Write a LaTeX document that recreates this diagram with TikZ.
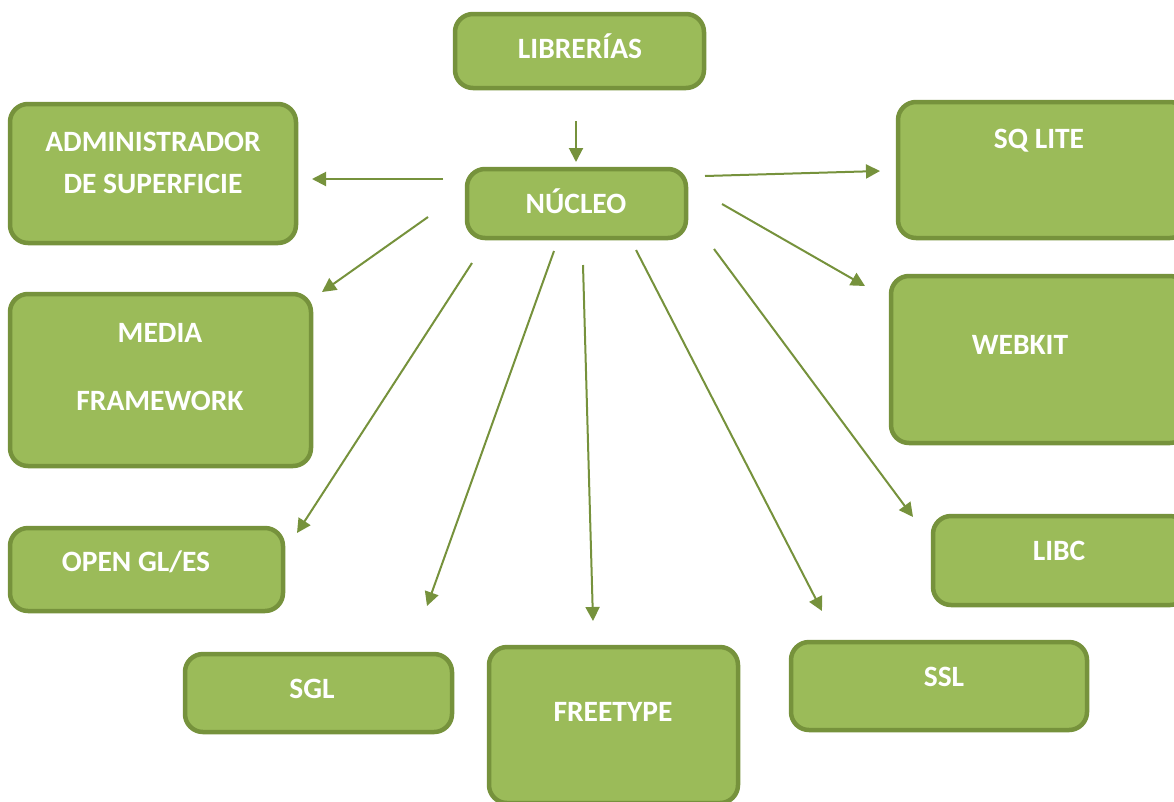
\documentclass[tikz,border=0pt]{standalone}
\usepackage{fontspec}
\setmainfont{Carlito}
\usetikzlibrary{arrows.meta}
\definecolor{boxfill}{HTML}{9BBB59}
\definecolor{boxline}{HTML}{76923C}
\begin{document}
\begin{tikzpicture}[x=1pt,y=-1pt,
  box/.style={draw=boxline,fill=boxfill,line width=4.5pt,rounded corners=18pt,inner sep=0pt,outer sep=0pt},
  txt/.style={text=white,font=\fontsize{29.5}{35}\selectfont\bfseries,anchor=base,inner sep=0pt},
  conn/.style={draw=boxline,line width=2pt,-{Triangle[length=14pt,width=14pt]}}]
\useasboundingbox (0,0) rectangle (1174,801);
\clip (0,0) rectangle (1174,801);
% boxes
\node[box,minimum width=249pt,minimum height=74pt] (lib) at (579.5,51) {};
\node[box,minimum width=219pt,minimum height=69pt] (nuc) at (576.5,203.5) {};
\node[box,minimum width=286pt,minimum height=139pt] (adm) at (153,173.5) {};
\node[box,minimum width=301pt,minimum height=172pt] (med) at (160.5,380) {};
\node[box,minimum width=273pt,minimum height=83pt] (ogl) at (146.5,569.5) {};
\node[box,minimum width=267pt,minimum height=78pt] (sgl) at (318.5,693) {};
\node[box,minimum width=249pt,minimum height=156pt] (ft) at (613.5,725) {};
\node[box,minimum width=296pt,minimum height=88pt] (ssl) at (939,686) {};
\node[box,minimum width=255pt,minimum height=89pt] (libc) at (1060.5,560.5) {};
\node[box,minimum width=297pt,minimum height=167pt] (web) at (1039.5,359.5) {};
\node[box,minimum width=290pt,minimum height=136pt] (sq) at (1043,170) {};
% texts
\node[txt] (libT) at (580,58.5) {LIBRERÍAS};
\node[txt] (nucT) at (576,213.5) {NÚCLEO};
\node[txt] (admT1) at (153,151.5) {ADMINISTRADOR};
\node[txt] (admT2) at (153,193.5) {DE SUPERFICIE};
\node[txt] (medT1) at (160,342.5) {MEDIA};
\node[txt] (medT2) at (160,410.5) {FRAMEWORK};
\node[txt] (oglT) at (136,571.5) {OPEN GL/ES};
\node[txt] (sglT) at (312,698.5) {SGL};
\node[txt] (ftT) at (613,721.5) {FREETYPE};
\node[txt] (sslT) at (944,686.5) {SSL};
\node[txt] (libcT) at (1059,560.5) {LIBC};
\node[txt] (webT) at (1020,354.5) {WEBKIT};
\node[txt] (sqT) at (1039,148.5) {SQ LITE};
% connector end points
\coordinate (s0) at (576,121);  \coordinate (e0) at (576,162);
\coordinate (s1) at (443,179);  \coordinate (e1) at (312,179);
\coordinate (s2) at (428,217);  \coordinate (e2) at (322,292);
\coordinate (s3) at (472,263);  \coordinate (e3) at (297,533);
\coordinate (s4) at (554,251);  \coordinate (e4) at (427,606);
\coordinate (s5) at (583,265);  \coordinate (e5) at (593,621);
\coordinate (s6) at (636,250);  \coordinate (e6) at (822,611);
\coordinate (s7) at (714,249);  \coordinate (e7) at (913,517);
\coordinate (s8) at (722,204);  \coordinate (e8) at (865,286);
\coordinate (s9) at (705,176);  \coordinate (e9) at (880,171);
\foreach \i in {0,...,9} {\draw[conn] (s\i) -- (e\i);}
\end{tikzpicture}
\end{document}
